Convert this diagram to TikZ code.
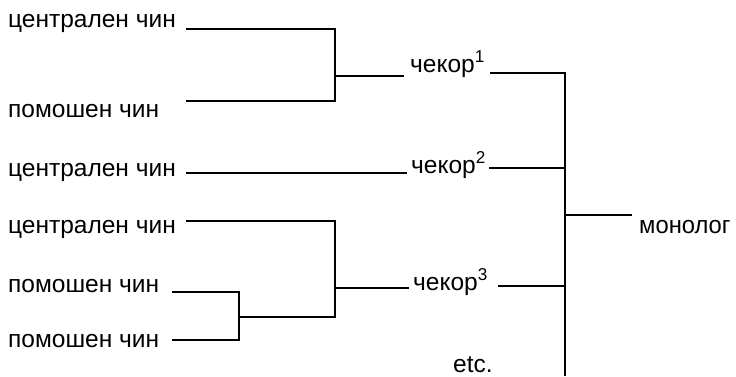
\documentclass[tikz,border=0pt]{standalone}
\usepackage{fontspec}
\setmainfont{Liberation Sans}
\begin{document}
\begin{tikzpicture}[x=1pt,y=-1pt,
  lbl/.style={anchor=base west,inner sep=0pt,font=\fontsize{24.5}{29}\selectfont},
  ln/.style={line width=1.4pt,line cap=rect}]
\useasboundingbox (0,0) rectangle (736,376);
% labels
\node[lbl] (c1) at (8,27)  {централен чин};
\node[lbl] (p1) at (8,117) {помошен чин};
\node[lbl] (c2) at (8,176) {централен чин};
\node[lbl] (c3) at (8,233) {централен чин};
\node[lbl] (p2) at (8,292) {помошен чин};
\node[lbl] (p3) at (8,347) {помошен чин};
\node[lbl] (s1) at (410,72)  {чекор\textsuperscript{1}};
\node[lbl] (s2) at (411,173) {чекор\textsuperscript{2}};
\node[lbl] (s3) at (413,290) {чекор\textsuperscript{3}};
\node[lbl,xscale=0.97] (mo) at (639,233) {монолог};
\node[lbl] (et) at (453,372) {etc.};
% bracket points
\coordinate (a1) at (187,29);  \coordinate (a2) at (335,29);
\coordinate (b1) at (187,101); \coordinate (b2) at (335,101);
\coordinate (j1) at (335,76);  \coordinate (j1e) at (403,76);
\coordinate (d1) at (187,173); \coordinate (d2) at (406,173);
\coordinate (e1) at (187,221); \coordinate (e2) at (335,221);
\coordinate (e3) at (335,317);
\coordinate (j3) at (335,288); \coordinate (j3e) at (408,288);
\coordinate (f1) at (173,292); \coordinate (f2) at (239,292);
\coordinate (g1) at (173,340); \coordinate (g2) at (239,340);
\coordinate (j2) at (239,317);
\coordinate (o1) at (491,73);  \coordinate (m1) at (565,73);
\coordinate (o2) at (490,168); \coordinate (m2) at (565,168);
\coordinate (o3) at (499,286); \coordinate (m3) at (565,286);
\coordinate (mt) at (565,215); \coordinate (me) at (631,215);
\coordinate (mb) at (565,375);
% first step
\draw[ln] (a1) -- (a2) -- (b2) -- (b1);
\draw[ln] (j1) -- (j1e);
% second step
\draw[ln] (d1) -- (d2);
% third step
\draw[ln] (e1) -- (e2) -- (e3) -- (j2);
\draw[ln] (j3) -- (j3e);
\draw[ln] (f1) -- (f2) -- (g2) -- (g1);
% steps into the monologue
\draw[ln] (o1) -- (m1) -- (mb);
\draw[ln] (o2) -- (m2);
\draw[ln] (o3) -- (m3);
\draw[ln] (mt) -- (me);
\end{tikzpicture}
\end{document}
